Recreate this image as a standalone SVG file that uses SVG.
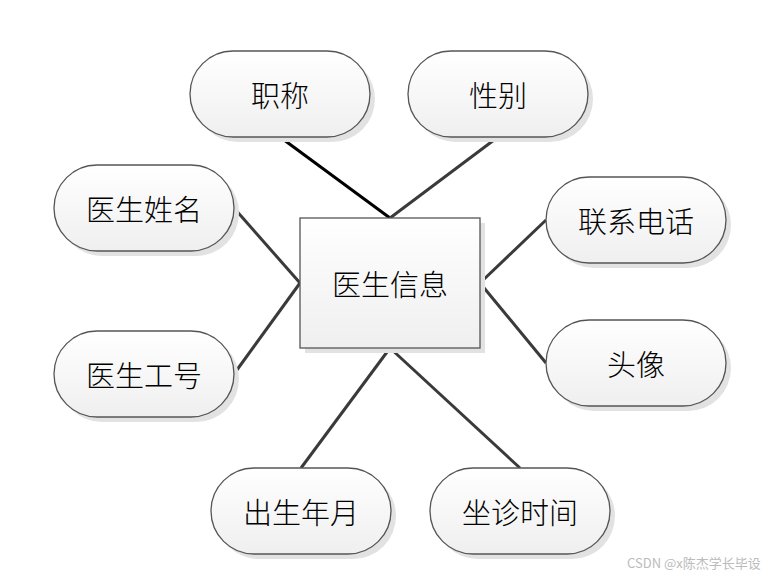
<svg xmlns="http://www.w3.org/2000/svg" width="783" height="577" viewBox="0 0 783 577">
<defs>
<linearGradient id="g" x1="0" y1="0" x2="0" y2="1"><stop offset="0" stop-color="#ffffff"/><stop offset="1" stop-color="#efefef"/></linearGradient>
</defs>
<style>
.sh{fill:#e2e2e2;stroke:none}
.n{fill:url(#g);stroke:#555;stroke-width:1.3}
.t{font-family:"Noto Sans CJK SC",sans-serif;font-size:29px;font-weight:300;fill:#000;text-anchor:middle;dominant-baseline:central}
.c{stroke:#3a3a3a;stroke-width:3;fill:none}
.wm{font-family:"Noto Sans CJK SC",sans-serif;font-size:13px;fill:#bbb}
</style>
<rect width="783" height="577" fill="#fff"/>
<g id="connectors">
<line class="c" x1="280" y1="137" x2="390" y2="218" style="stroke:#000"/>
<line class="c" x1="498" y1="137" x2="390" y2="218"/>
<line class="c" x1="234" y1="208" x2="300" y2="283"/>
<line class="c" x1="234" y1="374" x2="300" y2="283"/>
<line class="c" x1="546" y1="220" x2="480" y2="283"/>
<line class="c" x1="546" y1="363" x2="480" y2="283"/>
<line class="c" x1="301" y1="468" x2="390" y2="348"/>
<line class="c" x1="520" y1="468" x2="390" y2="348"/>
</g>
<g id="main">
<rect class="sh" x="305" y="223" width="180" height="130"/>
<rect class="n" x="300" y="218" width="180" height="130"/>
<text class="t" x="390" y="283">医生信息</text>
</g>
<g id="zhicheng">
<rect class="sh" x="195" y="56" width="180" height="86" rx="43"/>
<rect class="n" x="190" y="51" width="180" height="86" rx="43"/>
<text class="t" x="280" y="94">职称</text>
</g>
<g id="xingbie">
<rect class="sh" x="413" y="56" width="180" height="86" rx="43"/>
<rect class="n" x="408" y="51" width="180" height="86" rx="43"/>
<text class="t" x="498" y="94">性别</text>
</g>
<g id="xingming">
<rect class="sh" x="59" y="170" width="180" height="86" rx="43"/>
<rect class="n" x="54" y="165" width="180" height="86" rx="43"/>
<text class="t" x="144" y="208">医生姓名</text>
</g>
<g id="dianhua">
<rect class="sh" x="551" y="182" width="180" height="86" rx="43"/>
<rect class="n" x="546" y="177" width="180" height="86" rx="43"/>
<text class="t" x="636" y="220">联系电话</text>
</g>
<g id="gonghao">
<rect class="sh" x="59" y="336" width="180" height="86" rx="43"/>
<rect class="n" x="54" y="331" width="180" height="86" rx="43"/>
<text class="t" x="144" y="374">医生工号</text>
</g>
<g id="touxiang">
<rect class="sh" x="551" y="325" width="180" height="86" rx="43"/>
<rect class="n" x="546" y="320" width="180" height="86" rx="43"/>
<text class="t" x="636" y="363">头像</text>
</g>
<g id="chusheng">
<rect class="sh" x="216" y="473" width="180" height="86" rx="43"/>
<rect class="n" x="211" y="468" width="180" height="86" rx="43"/>
<text class="t" x="301" y="511">出生年月</text>
</g>
<g id="zuozhen">
<rect class="sh" x="435" y="473" width="180" height="86" rx="43"/>
<rect class="n" x="430" y="468" width="180" height="86" rx="43"/>
<text class="t" x="520" y="511">坐诊时间</text>
</g>
<text class="wm" x="627" y="568">CSDN @x陈杰学长毕设</text>
</svg>
